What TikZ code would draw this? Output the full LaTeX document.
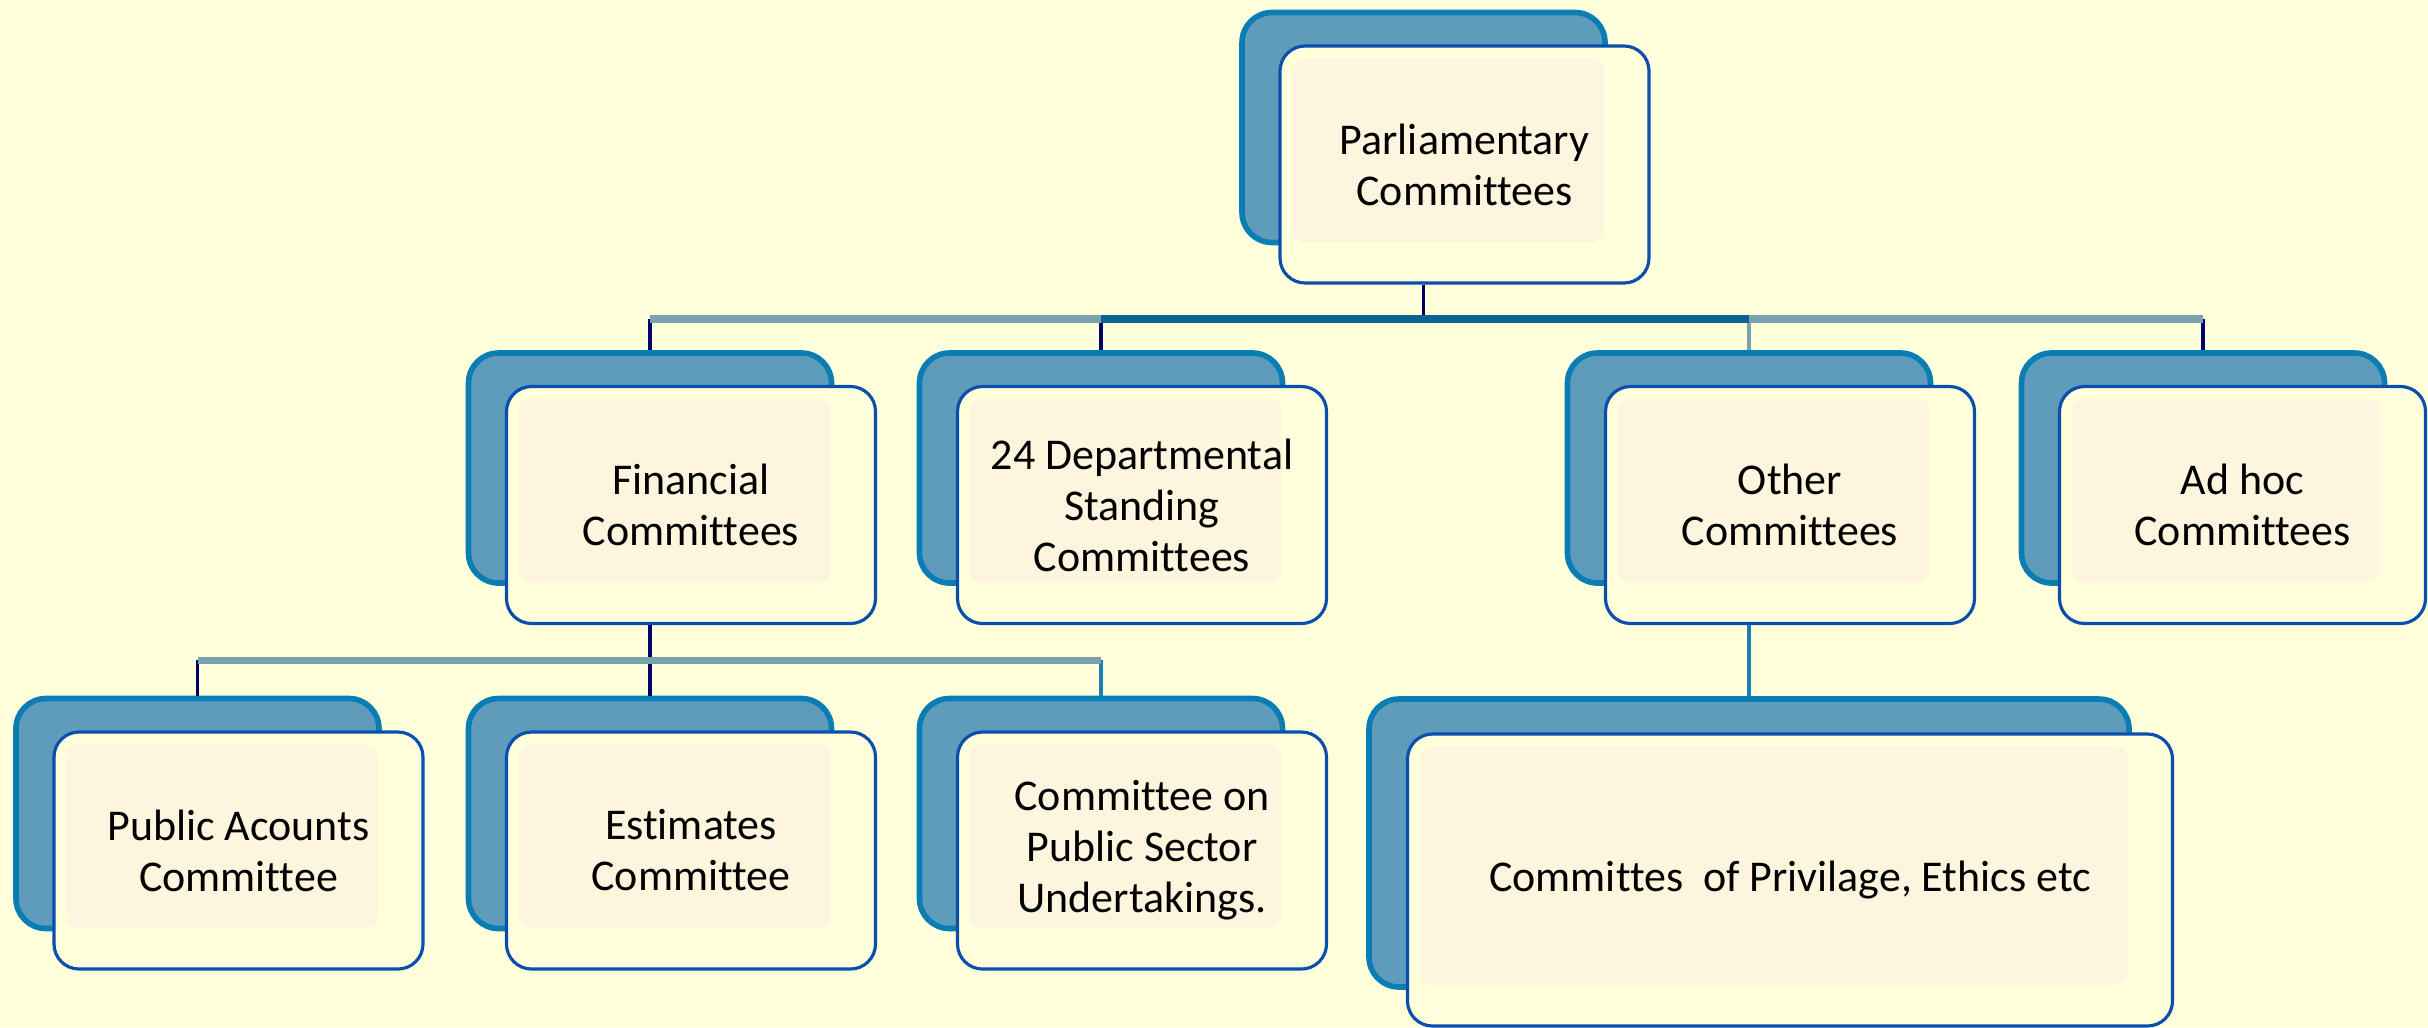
\documentclass[tikz,border=0pt]{standalone}
\usepackage{fontspec}
\setmainfont[Ligatures=CommonOff]{Carlito}
\usetikzlibrary{calc}
\definecolor{paper}{HTML}{FFFFDC}
\definecolor{cream}{HTML}{FDF5DE}
\definecolor{shadowblue}{HTML}{5F9CBC}
\definecolor{shadowedge}{HTML}{0A7DB5}
\definecolor{edgeblue}{HTML}{0A4FAE}
\definecolor{busgrey}{HTML}{7BA3AE}
\definecolor{busdark}{HTML}{0A6294}
\definecolor{navy}{HTML}{00006A}
\definecolor{teal}{HTML}{1A7DB5}
\begin{document}
\begin{tikzpicture}[
  backbox/.style={draw=shadowedge, line width=1.6pt, fill=shadowblue, rounded corners=0.3cm, inner sep=0pt},
  frontbox/.style={draw=edgeblue, line width=0.9pt, fill=paper, rounded corners=0.25cm,
    align=center, inner sep=0pt, font=\fontsize{12.5}{14.5}\selectfont,
    path picture={\fill[cream, rounded corners=0.12cm]
      ([shift={(0.12,-0.12)}]path picture bounding box.north west) rectangle
      ([shift={(-0.45,0.41)}]path picture bounding box.south east);}},
  backsize/.style={minimum width=3.63cm, minimum height=2.30cm},
  frontsize/.style={minimum width=3.69cm, minimum height=2.37cm},
  bus/.style={draw=busgrey, line width=2.2pt},
  drop/.style={draw=navy, line width=1.1pt}]
  % Fond
  \path[use as bounding box, fill=paper] (0,0) rectangle (24.28,-10.27);
  % Niveau 1
  \node[backbox, backsize] (parl-b) at (14.235,-1.275) {};
  \node[frontbox, frontsize] (parl) at ([shift={(0.41,-0.37)}]parl-b) {Parliamentary\\Committees};
  % Niveau 2
  \node[backbox, backsize] (fin-b) at (6.50,-4.68) {};
  \node[frontbox, frontsize] (fin) at ([shift={(0.41,-0.37)}]fin-b) {Financial\\Committees};
  \node[backbox, backsize] (dept-b) at (11.01,-4.68) {};
  \node[frontbox, frontsize] (dept) at ([shift={(0.41,-0.37)}]dept-b) {24 Departmental\\Standing\\Committees};
  \node[backbox, backsize] (other-b) at (17.49,-4.68) {};
  \node[frontbox, frontsize] (other) at ([shift={(0.41,-0.37)}]other-b) {Other\\Committees};
  \node[backbox, backsize] (adhoc-b) at (22.03,-4.68) {};
  \node[frontbox, frontsize, minimum width=3.66cm] (adhoc) at ([shift={(0.395,-0.37)}]adhoc-b) {Ad hoc\\Committees};
  % Niveau 3
  \node[backbox, backsize] (pac-b) at (1.975,-8.135) {};
  \node[frontbox, frontsize] (pac) at ([shift={(0.41,-0.37)}]pac-b) {Public Acounts\\Committee};
  \node[backbox, backsize] (est-b) at (6.50,-8.135) {};
  \node[frontbox, frontsize] (est) at ([shift={(0.41,-0.37)}]est-b) {Estimates\\Committee};
  \node[backbox, backsize] (psu-b) at (11.01,-8.135) {};
  \node[frontbox, frontsize] (psu) at ([shift={(0.41,-0.37)}]psu-b) {Committee on\\Public Sector\\Undertakings.};
  \node[backbox, minimum width=7.60cm, minimum height=2.88cm] (priv-b) at (17.49,-8.43) {};
  \node[frontbox, minimum width=7.65cm, minimum height=2.92cm] (priv) at ([shift={(0.41,-0.37)}]priv-b) {Committes~ of Privilage, Ethics etc};
  % Liaisons
  \coordinate (bus1) at (0,-3.19);
  \coordinate (bus2) at (0,-6.60);
  \draw[drop] (parl.south -| parl-b) -- (bus1 -| parl-b);
  \draw[drop] (bus1 -| fin-b) -- (fin-b.north);
  \draw[drop] (bus1 -| dept-b) -- (dept-b.north);
  \draw[drop, draw=busgrey] (bus1 -| other-b) -- (other-b.north);
  \draw[drop] (bus1 -| adhoc-b) -- (adhoc-b.north);
  \draw[bus] (bus1 -| fin-b) -- (bus1 -| adhoc-b);
  \draw[bus, draw=busdark] (bus1 -| dept-b) -- (bus1 -| other-b);
  \draw[drop] (fin.south -| fin-b) -- (bus2 -| fin-b);
  \draw[drop] (bus2 -| pac-b) -- (pac-b.north);
  \draw[drop] (bus2 -| est-b) -- (est-b.north);
  \draw[drop, draw=teal] (bus2 -| psu-b) -- (psu-b.north);
  \draw[bus, line width=2pt] (bus2 -| pac-b) -- (bus2 -| psu-b);
  \draw[drop, draw=teal, line width=1.3pt] (other.south -| other-b) -- (priv-b.north);
\end{tikzpicture}
\end{document}
